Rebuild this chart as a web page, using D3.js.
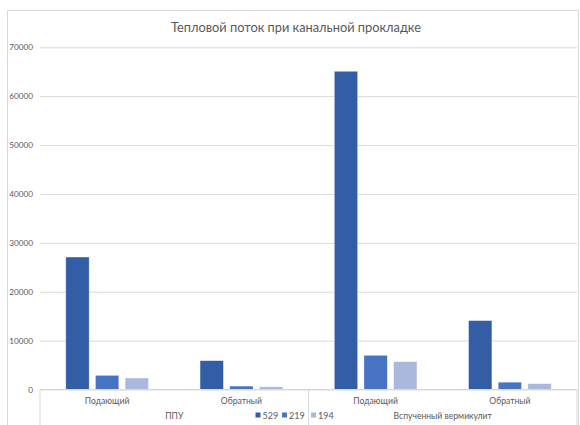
<!DOCTYPE html>
<html>
<head>
<meta charset="utf-8">
<script src="https://cdn.jsdelivr.net/npm/d3@7"></script>
<style>
  html, body { margin: 0; padding: 0; background: #fff; }
  svg { display: block; font-family: Lato, "Open Sans", sans-serif; }
</style>
</head>
<body>
<svg id="chart" width="580" height="425"></svg>
<script>
// Heat flow for duct laying, by insulation material and pipe (supply / return)
const title = "Тепловой поток при канальной прокладке";
const materials = ["ППУ", "Вспученный вермикулит"];
const pipes = ["Подающий", "Обратный"];
const seriesNames = ["529", "219", "194"];
const values529 = [27100, 5900, 65100, 14100];
const values219 = [2900, 700, 7000, 1500];
const values194 = [2350, 550, 5700, 1200];
const yTicks = [0, 10000, 20000, 30000, 40000, 50000, 60000, 70000];

const colors = ["#335da5", "#4673c3", "#a9b8dc"];
const seriesValues = [values529, values219, values194];

// Leaf categories: material × pipe
const cats = [];
materials.forEach((m, mi) => pipes.forEach((p, pi) => cats.push({ id: mi + "-" + pi, material: m, pipe: p, idx: cats.length })));

const svg = d3.select("#chart");
const W = 580, H = 425;
const plot = { left: 40, right: 577, top: 47.3, bottom: 389.5 };

// Outer chart frame
svg.append("rect")
  .attr("x", 7.5).attr("y", 10.5)
  .attr("width", 571).attr("height", 430)
  .attr("fill", "#fff").attr("stroke", "#d9d9d9").attr("stroke-width", 1);

// Title
svg.append("text")
  .attr("x", 296).attr("y", 31.5)
  .attr("text-anchor", "middle")
  .attr("font-size", 12.8)
  .attr("fill", "#595959")
  .text(title);

const y = d3.scaleLinear().domain([0, 70000]).range([plot.bottom, plot.top]);

const x0 = d3.scaleBand()
  .domain(cats.map(c => c.id))
  .range([plot.left, plot.right])
  .paddingInner(0.3375)
  .paddingOuter(0.3375 / 2);

const x1 = d3.scaleBand()
  .domain(seriesNames)
  .range([0, x0.bandwidth()])
  .paddingInner(0.212)
  .paddingOuter(0.106);

// Gridlines + value labels
const yAxis = d3.axisLeft(y)
  .tickValues(yTicks)
  .tickSize(-(plot.right - plot.left))
  .tickPadding(7)
  .tickFormat(d3.format("d"));

const gy = svg.append("g")
  .attr("transform", `translate(${plot.left},0)`)
  .call(yAxis);
gy.select(".domain").remove();
gy.selectAll(".tick line").attr("stroke", "#d9d9d9").attr("stroke-width", 1);
gy.selectAll(".tick text")
  .attr("fill", "#595959")
  .attr("font-size", 8.2)
  .attr("font-family", "Lato, 'Open Sans', sans-serif");

// Bars
const groupsSel = svg.append("g").selectAll("g")
  .data(cats)
  .join("g")
  .attr("transform", d => `translate(${x0(d.id)},0)`);

groupsSel.selectAll("rect")
  .data(c => seriesNames.map((s, si) => ({ s, si, v: seriesValues[si][c.idx] })))
  .join("rect")
  .attr("x", d => x1(d.s))
  .attr("y", d => y(d.v))
  .attr("width", x1.bandwidth())
  .attr("height", d => y(0) - y(d.v))
  .attr("fill", d => colors[d.si])
  .attr("stroke", "#ffffff")
  .attr("stroke-opacity", 0.6)
  .attr("stroke-width", 0.6);

// Multi-level category axis
const axisG = svg.append("g");
const lineColor = "#d9d9d9";
axisG.append("line")
  .attr("x1", plot.left).attr("x2", plot.right)
  .attr("y1", plot.bottom).attr("y2", plot.bottom)
  .attr("stroke", lineColor);

const step = x0.step();
const boundaries = [plot.left, plot.left + step * pipes.length, plot.right];
boundaries.forEach(bx => {
  axisG.append("line")
    .attr("x1", bx).attr("x2", bx)
    .attr("y1", plot.bottom).attr("y2", H)
    .attr("stroke", lineColor);
});

axisG.selectAll("text.pipe")
  .data(cats)
  .join("text")
  .attr("class", "pipe")
  .attr("x", d => x0(d.id) + x0.bandwidth() / 2)
  .attr("y", 404)
  .attr("text-anchor", "middle")
  .attr("font-size", 8.6)
  .attr("fill", "#595959")
  .text(d => d.pipe);

axisG.selectAll("text.material")
  .data(materials)
  .join("text")
  .attr("class", "material")
  .attr("x", (d, i) => (boundaries[i] + boundaries[i + 1]) / 2)
  .attr("y", 418.5)
  .attr("text-anchor", "middle")
  .attr("font-size", 8.6)
  .attr("fill", "#595959")
  .text(d => d);

// Legend
const legendX = [255.5, 282, 311];
const leg = svg.append("g");
seriesNames.forEach((s, i) => {
  leg.append("rect")
    .attr("x", legendX[i]).attr("y", 412.5)
    .attr("width", 5).attr("height", 5)
    .attr("fill", colors[i]);
  leg.append("text")
    .attr("x", legendX[i] + 7).attr("y", 418.7)
    .attr("font-size", 9)
    .attr("fill", "#595959")
    .text(s);
});
</script>
</body>
</html>
